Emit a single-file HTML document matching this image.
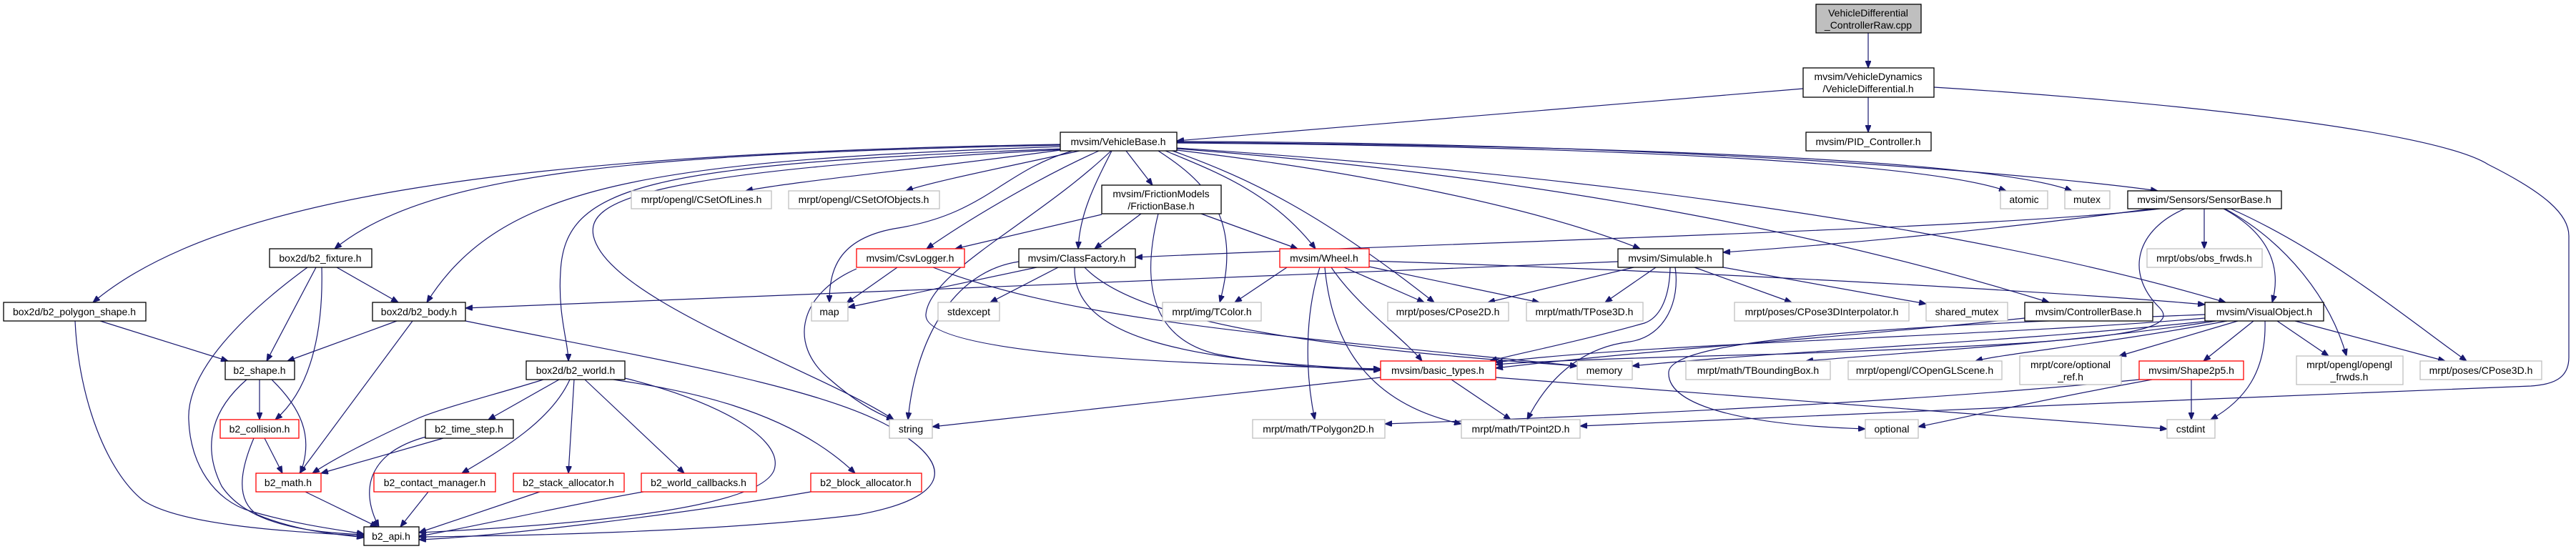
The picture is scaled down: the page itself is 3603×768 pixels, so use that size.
<!DOCTYPE html>
<html><head><meta charset="utf-8"><style>
html,body{margin:0;padding:0;background:#fff;}
svg{display:block;}
text{font-family:"Liberation Sans",sans-serif;font-size:14px;fill:#000;text-anchor:middle;}
.e{fill:none;stroke:#191970;stroke-width:1.2;marker-end:url(#a);}
.k{fill:#fff;stroke:#000;stroke-width:1.3;}
.g{fill:#fff;stroke:#bfbfbf;stroke-width:1.3;}
.r{fill:#fff;stroke:#ff0000;stroke-width:1.3;}
</style></head><body>
<svg width="3603" height="768" viewBox="0 0 3603 768" xmlns="http://www.w3.org/2000/svg">
<defs><marker id="a" markerUnits="userSpaceOnUse" markerWidth="11" markerHeight="8" refX="10" refY="4" orient="auto"><path d="M0,0 L10,4 L0,8 z" fill="#191970" stroke="#191970"/></marker></defs>
<g>
<path class="e" d="M2613,46 L2613,95"/>
<path class="e" d="M2613,136 L2613,185"/>
<path class="e" d="M2522,124 L1646,197"/>
<path class="e" d="M2705,122 C3000,140 3400,180 3480,230 C3560,270 3593,300 3593,330 L3593,500 C3593,530 3570,538 3540,540 C3200,555 2500,580 2210,596"/>
<path class="e" d="M1483,202 C700,215 300,280 130,423"/>
<path class="e" d="M1483,203 C900,215 600,240 468,348"/>
<path class="e" d="M1485,205 C900,225 700,260 597,423"/>
<path class="e" d="M1490,208 C900,230 790,260 784,380 C780,440 795,480 795,505"/>
<path class="e" d="M1500,211 C1400,240 1380,300 1250,320 C1170,335 1160,380 1160,423"/>
<path class="e" d="M1490,209 C900,240 820,280 830,330 C850,420 1150,520 1250,587"/>
<path class="e" d="M1483,210 C1300,235 1100,255 1043,267"/>
<path class="e" d="M1510,211 C1400,235 1300,255 1267,267"/>
<path class="e" d="M1537,211 C1450,250 1350,310 1296,348"/>
<path class="e" d="M1555,211 C1530,260 1510,300 1508,348"/>
<path class="e" d="M1575,211 L1612,259"/>
<path class="e" d="M1554,211 C1450,310 1300,380 1295,440 C1290,500 1700,510 1931,516"/>
<path class="e" d="M1620,211 C1680,250 1740,300 1706,423"/>
<path class="e" d="M1630,211 C1700,240 1780,270 1840,348"/>
<path class="e" d="M1640,211 C1750,250 1850,300 2006,423"/>
<path class="e" d="M1646,210 C1900,240 2150,290 2294,348"/>
<path class="e" d="M1646,208 C2200,250 2600,340 2866,423"/>
<path class="e" d="M1646,207 C2300,250 2800,330 3113,423"/>
<path class="e" d="M1646,200 C2300,205 2700,230 2806,267"/>
<path class="e" d="M1646,199 C2400,205 2800,230 2898,267"/>
<path class="e" d="M1646,198 C2400,200 2900,250 3018,267"/>
<path class="e" d="M1800,374 L1727,423"/>
<path class="e" d="M1880,374 L1992,423"/>
<path class="e" d="M1910,372 L2153,423"/>
<path class="e" d="M1862,374 C1900,430 1960,470 1989,505"/>
<path class="e" d="M1846,374 C1825,440 1825,520 1839,587"/>
<path class="e" d="M1853,374 C1860,450 1890,560 2044,593"/>
<path class="e" d="M1915,365 C2400,380 2900,410 3084,426"/>
<path class="e" d="M2263,366 L651,431"/>
<path class="e" d="M2285,374 L2081,423"/>
<path class="e" d="M2316,374 L2245,423"/>
<path class="e" d="M2370,374 L2506,423"/>
<path class="e" d="M2410,374 L2694,425"/>
<path class="e" d="M2336,374 C2335,420 2320,445 2300,452 C2200,480 2120,495 2084,505"/>
<path class="e" d="M2343,374 C2350,420 2330,470 2280,478 C2220,485 2170,520 2136,587"/>
<path class="e" d="M1541,300 L1336,348"/>
<path class="e" d="M1596,299 L1531,348"/>
<path class="e" d="M1680,299 L1815,348"/>
<path class="e" d="M1620,299 C1600,380 1600,470 1700,495 C1800,515 1900,517 1931,518"/>
<path class="e" d="M1255,374 L1184,424"/>
<path class="e" d="M1198,376 C1120,410 1100,480 1160,530 C1200,565 1230,580 1250,587"/>
<path class="e" d="M1305,374 C1500,450 1800,470 2206,512"/>
<path class="e" d="M1450,374 L1186,430"/>
<path class="e" d="M1480,374 L1385,423"/>
<path class="e" d="M1425,366 C1330,380 1280,480 1270,587"/>
<path class="e" d="M1503,374 C1500,470 1650,505 1931,517"/>
<path class="e" d="M1517,374 C1600,460 1900,490 2206,512"/>
<path class="e" d="M471,374 L557,423"/>
<path class="e" d="M442,374 L373,505"/>
<path class="e" d="M450,374 C452,450 440,540 385,587"/>
<path class="e" d="M430,374 C340,440 260,520 264,588 C266,650 300,700 350,715 C420,735 480,742 509,747"/>
<path class="e" d="M140,449 L319,505"/>
<path class="e" d="M105,449 C110,560 150,660 200,700 C260,740 450,745 509,750"/>
<path class="e" d="M555,449 L402,505"/>
<path class="e" d="M577,449 L419,662"/>
<path class="e" d="M651,449 C900,500 1150,540 1250,600 C1350,660 1310,700 1200,720 C1000,745 700,750 586,751"/>
<path class="e" d="M363,531 L363,587"/>
<path class="e" d="M380,531 C420,570 440,610 420,662"/>
<path class="e" d="M345,531 C300,570 280,620 310,680 C350,740 450,745 509,748"/>
<path class="e" d="M370,613 L395,662"/>
<path class="e" d="M355,613 C335,660 330,700 360,720 C420,745 480,748 509,752"/>
<path class="e" d="M427,688 L528,737"/>
<path class="e" d="M782,531 L683,587"/>
<path class="e" d="M760,531 C700,550 620,570 585,585 C520,615 470,640 437,662"/>
<path class="e" d="M797,531 C770,590 700,630 646,662"/>
<path class="e" d="M803,531 L795,662"/>
<path class="e" d="M818,531 L957,662"/>
<path class="e" d="M858,531 C950,545 1100,570 1196,662"/>
<path class="e" d="M874,529 C1000,560 1090,610 1084,652 C1080,700 900,730 586,745"/>
<path class="e" d="M620,613 L449,662"/>
<path class="e" d="M600,610 C520,630 500,680 530,737"/>
<path class="e" d="M599,688 L560,737"/>
<path class="e" d="M755,688 L586,745"/>
<path class="e" d="M900,688 C800,705 650,740 586,750"/>
<path class="e" d="M1134,688 C950,720 700,750 586,755"/>
<path class="e" d="M1931,528 L1304,597"/>
<path class="e" d="M2030,531 L2113,587"/>
<path class="e" d="M2092,528 C2500,560 2800,580 3031,600"/>
<path class="e" d="M3084,445 C2800,470 2300,480 2092,507"/>
<path class="e" d="M3090,449 C2800,480 2500,490 2283,512"/>
<path class="e" d="M3100,449 C2900,480 2700,490 2526,505"/>
<path class="e" d="M3115,449 C2950,480 2800,495 2763,505"/>
<path class="e" d="M3130,449 L2964,498"/>
<path class="e" d="M3152,449 L3082,505"/>
<path class="e" d="M3168,449 C3170,520 3140,560 3092,587"/>
<path class="e" d="M3185,449 L3257,498"/>
<path class="e" d="M3210,449 L3420,505"/>
<path class="e" d="M3084,440 C2700,455 2340,470 2334,520 C2330,570 2450,595 2609,600"/>
<path class="e" d="M2992,531 C2700,560 2300,580 1937,593"/>
<path class="e" d="M3010,531 C2850,560 2720,590 2683,597"/>
<path class="e" d="M3065,531 L3065,587"/>
<path class="e" d="M3083,292 L3083,348"/>
<path class="e" d="M3110,292 C3180,330 3190,380 3178,423"/>
<path class="e" d="M3112,292 C3200,340 3260,420 3282,498"/>
<path class="e" d="M3120,292 C3250,350 3360,440 3450,505"/>
<path class="e" d="M3021,292 C2800,320 2000,340 1588,360"/>
<path class="e" d="M3010,292 C2800,320 2600,340 2410,353"/>
<path class="e" d="M3056,292 C2990,320 2970,380 3020,430 C3060,470 2900,480 2500,495 C2300,500 2150,505 2092,510"/>
<path class="e" d="M2832,445 C2600,470 2300,490 2092,515"/>
</g>
<g>
<rect x="2540" y="6" width="147" height="40" fill="#bfbfbf" stroke="#000" stroke-width="1.3"/><text x="2613" y="23">VehicleDifferential</text><text x="2613" y="40">_ControllerRaw.cpp</text>
<rect class="k" x="2522" y="95" width="183" height="41"/><text x="2613" y="112">mvsim/VehicleDynamics</text><text x="2613" y="129">/VehicleDifferential.h</text>
<rect class="k" x="2526" y="185" width="175" height="26"/><text x="2613" y="203">mvsim/PID_Controller.h</text>
<rect class="k" x="1483" y="185" width="163" height="26"/><text x="1564" y="203">mvsim/VehicleBase.h</text>
<rect class="g" x="883" y="267" width="196" height="25"/><text x="981" y="284">mrpt/opengl/CSetOfLines.h</text>
<rect class="g" x="1103" y="267" width="211" height="25"/><text x="1208" y="284">mrpt/opengl/CSetOfObjects.h</text>
<rect class="k" x="1541" y="259" width="167" height="40"/><text x="1624" y="276">mvsim/FrictionModels</text><text x="1624" y="293">/FrictionBase.h</text>
<rect class="g" x="2798" y="267" width="66" height="25"/><text x="2831" y="284">atomic</text>
<rect class="g" x="2888" y="267" width="63" height="25"/><text x="2919" y="284">mutex</text>
<rect class="k" x="2976" y="267" width="215" height="25"/><text x="3083" y="284">mvsim/Sensors/SensorBase.h</text>
<rect class="k" x="377" y="348" width="143" height="26"/><text x="448" y="366">box2d/b2_fixture.h</text>
<rect class="r" x="1198" y="348" width="151" height="26"/><text x="1273" y="366">mvsim/CsvLogger.h</text>
<rect class="k" x="1425" y="348" width="163" height="26"/><text x="1506" y="366">mvsim/ClassFactory.h</text>
<rect class="r" x="1790" y="348" width="125" height="26"/><text x="1852" y="366">mvsim/Wheel.h</text>
<rect class="k" x="2263" y="348" width="147" height="26"/><text x="2336" y="366">mvsim/Simulable.h</text>
<rect class="g" x="3003" y="348" width="161" height="26"/><text x="3083" y="366">mrpt/obs/obs_frwds.h</text>
<rect class="k" x="5" y="423" width="199" height="26"/><text x="104" y="441">box2d/b2_polygon_shape.h</text>
<rect class="k" x="521" y="423" width="130" height="26"/><text x="586" y="441">box2d/b2_body.h</text>
<rect class="g" x="1135" y="423" width="51" height="26"/><text x="1160" y="441">map</text>
<rect class="g" x="1312" y="423" width="86" height="26"/><text x="1355" y="441">stdexcept</text>
<rect class="g" x="1626" y="423" width="138" height="26"/><text x="1695" y="441">mrpt/img/TColor.h</text>
<rect class="g" x="1941" y="423" width="169" height="26"/><text x="2025" y="441">mrpt/poses/CPose2D.h</text>
<rect class="g" x="2135" y="423" width="163" height="26"/><text x="2216" y="441">mrpt/math/TPose3D.h</text>
<rect class="g" x="2426" y="423" width="244" height="26"/><text x="2548" y="441">mrpt/poses/CPose3DInterpolator.h</text>
<rect class="g" x="2694" y="423" width="114" height="26"/><text x="2751" y="441">shared_mutex</text>
<rect class="k" x="2832" y="423" width="179" height="26"/><text x="2921" y="441">mvsim/ControllerBase.h</text>
<rect class="k" x="3084" y="423" width="166" height="26"/><text x="3167" y="441">mvsim/VisualObject.h</text>
<rect class="k" x="315" y="505" width="97" height="26"/><text x="363" y="523">b2_shape.h</text>
<rect class="k" x="736" y="505" width="138" height="26"/><text x="805" y="523">box2d/b2_world.h</text>
<rect class="r" x="1931" y="505" width="161" height="26"/><text x="2011" y="523">mvsim/basic_types.h</text>
<rect class="g" x="2206" y="505" width="77" height="26"/><text x="2244" y="523">memory</text>
<rect class="g" x="2358" y="505" width="202" height="26"/><text x="2459" y="523">mrpt/math/TBoundingBox.h</text>
<rect class="g" x="2585" y="505" width="215" height="26"/><text x="2692" y="523">mrpt/opengl/COpenGLScene.h</text>
<rect class="g" x="2825" y="498" width="142" height="40"/><text x="2896" y="515">mrpt/core/optional</text><text x="2896" y="532">_ref.h</text>
<rect class="r" x="2992" y="505" width="146" height="26"/><text x="3065" y="523">mvsim/Shape2p5.h</text>
<rect class="g" x="3212" y="498" width="149" height="40"/><text x="3286" y="515">mrpt/opengl/opengl</text><text x="3286" y="532">_frwds.h</text>
<rect class="g" x="3385" y="505" width="170" height="26"/><text x="3470" y="523">mrpt/poses/CPose3D.h</text>
<rect class="r" x="308" y="587" width="110" height="26"/><text x="363" y="605">b2_collision.h</text>
<rect class="k" x="595" y="587" width="123" height="26"/><text x="656" y="605">b2_time_step.h</text>
<rect class="g" x="1244" y="587" width="60" height="26"/><text x="1274" y="605">string</text>
<rect class="g" x="1752" y="587" width="185" height="26"/><text x="1844" y="605">mrpt/math/TPolygon2D.h</text>
<rect class="g" x="2044" y="587" width="166" height="26"/><text x="2127" y="605">mrpt/math/TPoint2D.h</text>
<rect class="g" x="2609" y="587" width="74" height="26"/><text x="2646" y="605">optional</text>
<rect class="g" x="3031" y="587" width="67" height="26"/><text x="3064" y="605">cstdint</text>
<rect class="r" x="358" y="662" width="91" height="26"/><text x="403" y="680">b2_math.h</text>
<rect class="r" x="523" y="662" width="170" height="26"/><text x="608" y="680">b2_contact_manager.h</text>
<rect class="r" x="718" y="662" width="155" height="26"/><text x="795" y="680">b2_stack_allocator.h</text>
<rect class="r" x="897" y="662" width="161" height="26"/><text x="977" y="680">b2_world_callbacks.h</text>
<rect class="r" x="1134" y="662" width="155" height="26"/><text x="1211" y="680">b2_block_allocator.h</text>
<rect class="k" x="509" y="737" width="77" height="26"/><text x="547" y="755">b2_api.h</text>
</g>
</svg>
</body></html>
